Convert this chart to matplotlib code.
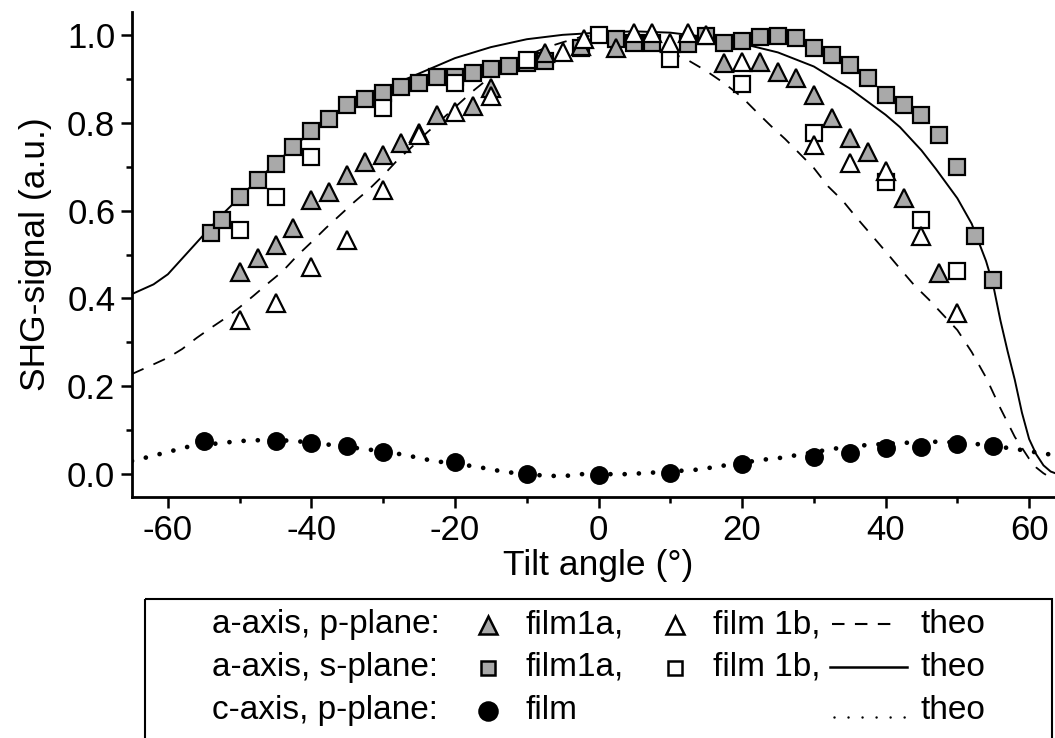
import matplotlib
matplotlib.use("Agg")
import matplotlib.pyplot as plt
from matplotlib.lines import Line2D
from matplotlib.patches import Rectangle
from matplotlib.ticker import MultipleLocator

plt.rcParams['font.family'] = ['Liberation Sans', 'DejaVu Sans']

# a-axis, s-plane, film 1a (grey squares)
s1a_angle = [-54, -52.5, -50, -47.5, -45, -42.5, -40, -37.5, -35, -32.5, -30, -27.5,
             -25, -22.5, -20, -17.5, -15, -12.5, -10, -7.5, -2.5, 2.5, 5, 7.5, 12.5,
             15, 17.5, 20, 22.5, 25, 27.5, 30, 32.5, 35, 37.5, 40, 42.5, 45, 47.5,
             50, 52.5, 55]
s1a_signal = [0.548, 0.579, 0.632, 0.670, 0.707, 0.745, 0.780, 0.808, 0.840, 0.853,
              0.867, 0.882, 0.890, 0.904, 0.905, 0.914, 0.922, 0.928, 0.935, 0.940,
              0.970, 0.990, 0.982, 0.982, 0.979, 0.998, 0.982, 0.985, 0.995, 0.998,
              0.992, 0.970, 0.954, 0.932, 0.901, 0.863, 0.841, 0.818, 0.772, 0.700,
              0.542, 0.442]

# a-axis, s-plane, film 1b (open squares)
s1b_angle = [-50, -45, -40, -30, -20, -10, 0, 10, 20, 30, 40, 45, 50]
s1b_signal = [0.556, 0.632, 0.723, 0.833, 0.890, 0.943, 1.000, 0.945, 0.888, 0.776,
              0.666, 0.579, 0.463]

# a-axis, p-plane, film 1a (grey triangles)
p1a_angle = [-50, -47.5, -45, -42.5, -40, -37.5, -35, -32.5, -30, -27.5, -25, -22.5,
             -17.5, -15, -7.5, -2.5, 2.5, 17.5, 22.5, 25, 27.5, 30, 32.5, 35, 37.5,
             42.5, 47.5]
p1a_signal = [0.461, 0.491, 0.522, 0.560, 0.624, 0.643, 0.681, 0.711, 0.727, 0.753,
              0.776, 0.818, 0.838, 0.880, 0.958, 0.975, 0.970, 0.935, 0.939, 0.916,
              0.901, 0.863, 0.810, 0.765, 0.734, 0.628, 0.459]

# a-axis, p-plane, film 1b (open triangles)
p1b_angle = [-50, -45, -40, -35, -30, -25, -20, -15, -5, -2, 5, 7.5, 10, 12.5, 15,
             20, 30, 35, 40, 45, 50]
p1b_signal = [0.351, 0.389, 0.472, 0.533, 0.647, 0.772, 0.825, 0.860, 0.962, 0.990,
              1.005, 1.005, 0.981, 1.005, 1.000, 0.939, 0.749, 0.708, 0.689, 0.541,
              0.366]

# c-axis, p-plane film (black circles)
c_angle = [-55, -45, -40, -35, -30, -20, -10, 0, 10, 20, 30, 35, 40, 45, 50, 55]
c_signal = [0.076, 0.076, 0.070, 0.064, 0.051, 0.028, 0.000, -0.003, 0.002, 0.023,
            0.038, 0.049, 0.059, 0.061, 0.068, 0.064]

# theory, a-axis s-plane (solid)
theo_s_angle = [-65, -62, -60, -57.5, -55, -52.5, -50, -47.5, -45, -42.5, -40, -37.5,
                -35, -30, -25, -20, -15, -10, -5, 0, 5, 10, 15, 20, 25, 30, 35, 40,
                42, 45, 47, 50, 52, 54, 55, 56, 57, 58, 59, 60, 61, 62, 63, 64, 65]
theo_s_signal = [0.410, 0.432, 0.455, 0.500, 0.545, 0.590, 0.630, 0.670, 0.707, 0.745,
                 0.780, 0.810, 0.840, 0.877, 0.912, 0.947, 0.972, 0.990, 1.000, 1.005,
                 1.008, 1.005, 0.995, 0.980, 0.960, 0.928, 0.878, 0.818, 0.790, 0.737,
                 0.695, 0.628, 0.570, 0.485, 0.430, 0.350, 0.280, 0.215, 0.140, 0.080,
                 0.045, 0.020, 0.006, 0.000, -0.004]

# theory, a-axis p-plane (dashed)
theo_p_angle = [-65, -62, -60, -58, -56, -54, -52, -50, -48, -46, -44, -42, -40, -38,
                -36, -34, -32, -30, -28, -26, -24, -22, -20, -17.5, -15, -12.5, -10,
                -7.5, -5, -2.5, 0, 2.5, 5, 7.5, 10, 12.5, 15, 17.5, 20, 22, 24, 26, 28,
                30, 32, 34, 36, 38, 40, 42, 44, 46, 48, 50, 52, 54, 56, 58, 60, 61, 62,
                63, 64]
theo_p_signal = [0.228, 0.250, 0.265, 0.285, 0.310, 0.333, 0.355, 0.380, 0.407, 0.435,
                 0.462, 0.497, 0.528, 0.560, 0.590, 0.620, 0.648, 0.680, 0.715, 0.745,
                 0.776, 0.805, 0.835, 0.872, 0.905, 0.930, 0.952, 0.970, 0.983, 0.995,
                 1.000, 0.998, 0.990, 0.975, 0.960, 0.942, 0.918, 0.890, 0.858, 0.825,
                 0.793, 0.763, 0.730, 0.697, 0.655, 0.623, 0.583, 0.545, 0.507, 0.468,
                 0.430, 0.398, 0.363, 0.328, 0.278, 0.220, 0.150, 0.085, 0.035, 0.015,
                 0.002, -0.008, -0.015]

# theory, c-axis p-plane (dotted)
theo_c_angle = [-65, -63, -60.6, -58.7, -56.8, -52.4, -50.3, -48, -45, -42, -38, -35,
                -32, -27.4, -25.3, -23, -20, -17, -15, -13, -10, -7, -4.6, -2.3, 0, 4,
                6, 8, 10, 14.4, 16.3, 20, 22.3, 24.9, 26.8, 30, 32.8, 37.2, 42, 47.4,
                52, 57.4, 62, 65]
theo_c_signal = [0.030, 0.038, 0.048, 0.056, 0.064, 0.071, 0.075, 0.077, 0.078, 0.075,
                 0.068, 0.062, 0.056, 0.045, 0.038, 0.030, 0.024, 0.017, 0.011, 0.005,
                 0.000, -0.004, -0.004, 0.000, 0.000, 0.000, 0.002, 0.004, 0.006, 0.011,
                 0.017, 0.025, 0.032, 0.036, 0.041, 0.050, 0.058, 0.066, 0.071, 0.074,
                 0.070, 0.059, 0.047, 0.040]

x_ticks = [-60, -40, -20, 0, 20, 40, 60]
y_ticks = [0.0, 0.2, 0.4, 0.6, 0.8, 1.0]

GREY = '#a9a9a9'
W, H = 1055, 738

fig = plt.figure(figsize=(W / 100, H / 100), dpi=100)
ax = fig.add_axes([132 / W, 1 - 497 / H, (1065 - 132) / W, (497 - 12) / H])

ax.plot(theo_s_angle, theo_s_signal, color='black', lw=1.4, zorder=2)
ax.plot(theo_p_angle, theo_p_signal, color='black', lw=1.3, dashes=(7, 6), zorder=2)
ax.plot(theo_c_angle, theo_c_signal, color='black', lw=3.4,
        linestyle=(0, (0.01, 3.0)), dash_capstyle='round', zorder=2)

mk = dict(linestyle='none', markeredgecolor='black', markeredgewidth=1.6, zorder=3)
ax.plot(s1a_angle, s1a_signal, marker='s', ms=11.5, markerfacecolor=GREY, **mk)
ax.plot(p1a_angle, p1a_signal, marker='^', ms=13, markerfacecolor=GREY, **mk)
ax.plot(s1b_angle, s1b_signal, marker='s', ms=11.5, markerfacecolor='white', **mk)
ax.plot(p1b_angle, p1b_signal, marker='^', ms=13, markerfacecolor='white', **mk)
ax.plot(c_angle, c_signal, marker='o', ms=12, markerfacecolor='black', **mk)

ax.set_xlim(-65, 65)
ax.set_ylim(-0.052, 1.052)
ax.set_xticks(x_ticks)
ax.set_xticklabels([f'{v:d}' for v in x_ticks])
ax.set_yticks(y_ticks)
ax.set_yticklabels([f'{v:.1f}' for v in y_ticks])
ax.xaxis.set_minor_locator(MultipleLocator(10))
ax.yaxis.set_minor_locator(MultipleLocator(0.1))
ax.tick_params(which='major', direction='out', length=8, width=1.8,
               labelsize=25, pad=4)
ax.tick_params(which='minor', direction='out', length=4, width=1.8)
for side in ('top', 'right'):
    ax.spines[side].set_visible(False)
for side in ('left', 'bottom'):
    ax.spines[side].set_linewidth(2.0)

ax.set_xlabel('Tilt angle (°)', fontsize=25.5, labelpad=2)
ax.set_ylabel('SHG-signal (a.u.)', fontsize=25.5, labelpad=11)

# key box below the plot
lax = fig.add_axes([0, 0, 1, 1], facecolor='none')
lax.set_xlim(0, W)
lax.set_ylim(H, 0)
lax.axis('off')
lax.add_patch(Rectangle((145, 599), 907, 200, fill=False, lw=1.5, edgecolor='black'))

fs = 24
rows = [633, 676, 719]
labels = ['a-axis, p-plane:', 'a-axis, s-plane:', 'c-axis, p-plane:']
for yb, lab in zip(rows, labels):
    lax.text(212, yb, lab, fontsize=fs, va='baseline', ha='left')

kmk = dict(linestyle='none', markeredgecolor='black', markeredgewidth=1.8)
lax.add_line(Line2D([488], [rows[0] - 8], marker='^', ms=13.5, markerfacecolor=GREY, **kmk))
lax.add_line(Line2D([488], [rows[1] - 8], marker='s', ms=9.5, markerfacecolor=GREY, **kmk))
lax.add_line(Line2D([488], [rows[2] - 8], marker='o', ms=13, markerfacecolor='black', **kmk))
lax.add_line(Line2D([675], [rows[0] - 8], marker='^', ms=13.5, markerfacecolor='white', **kmk))
lax.add_line(Line2D([675], [rows[1] - 8], marker='s', ms=9.5, markerfacecolor='white', **kmk))

lax.text(525, rows[0], 'film1a,', fontsize=fs, va='baseline')
lax.text(525, rows[1], 'film1a,', fontsize=fs, va='baseline')
lax.text(525, rows[2], 'film', fontsize=fs, va='baseline')
lax.text(713, rows[0], 'film 1b,', fontsize=fs, va='baseline')
lax.text(713, rows[1], 'film 1b,', fontsize=fs, va='baseline')

lax.add_line(Line2D([832, 897], [rows[0] - 9] * 2, color='black', lw=1.5, dashes=(6, 5)))
lax.add_line(Line2D([830, 907], [rows[1] - 9] * 2, color='black', lw=1.8))
lax.add_line(Line2D([834, 916], [rows[2] - 2] * 2, color='black', lw=1.8,
                    linestyle=(0, (0.01, 5.6)), dash_capstyle='round'))
for yb in rows:
    lax.text(985, yb, 'theo', fontsize=fs, va='baseline', ha='right')

fig.savefig('out.png', dpi=100)
